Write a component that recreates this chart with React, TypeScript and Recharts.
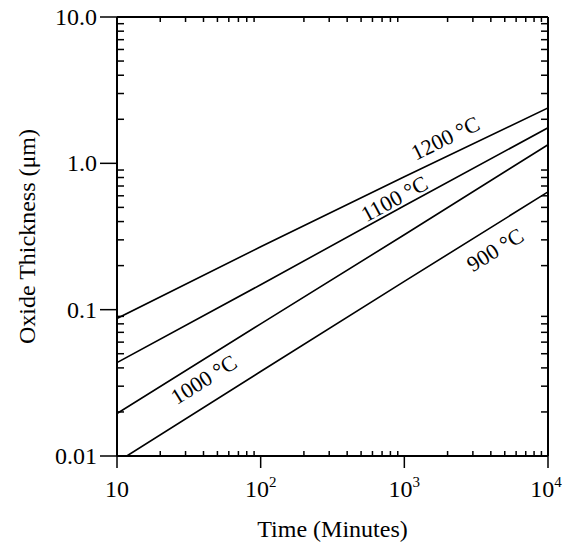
import React from 'react';
import { LineChart, Line, XAxis, YAxis, ReferenceDot } from 'recharts';

// oxide growth curves
const time = [10, 100, 1000, 10000];
const time900 = [11.7, 100, 1000, 10000];
const ox1200 = [0.087, 0.269, 0.809, 2.39];
const ox1100 = [0.0435, 0.148, 0.513, 1.75];
const ox1000 = [0.0195, 0.08, 0.325, 1.34];
const ox900 = [0.01, 0.0378, 0.156, 0.638];

const xMajorTicks = [10, 100, 1000, 10000];
const xTickExponents = ['', '2', '3', '4'];
const yMajorTicks = [0.01, 0.1, 1, 10];
const yTickLabels = ['0.01', '0.1', '1.0', '10.0'];

const curveLabels = [
  { text: '1200 °C', x: 1928, y: 1.49, rot: -26 },
  { text: '1100 °C', x: 851, y: 0.573, rot: -28.5 },
  { text: '1000 °C', x: 40.2, y: 0.0333, rot: -32 },
  { text: '900 °C', x: 4285, y: 0.257, rot: -32 },
];

const toPoints = (xs: number[], ys: number[]) => xs.map((x, i) => ({ x, y: ys[i] }));

const minorTicks = (from: number, to: number) => {
  const out: number[] = [];
  for (let d = from; d < to; d *= 10) {
    for (let k = 2; k <= 9; k++) out.push(d * k);
  }
  return out;
};

const xMinor = minorTicks(10, 10000);
const yMinor = minorTicks(0.01, 10);

const FONT = 'Liberation Serif, Times New Roman, serif';
const Y_AXIS_W = 117;
const axisLine = { stroke: '#000', strokeWidth: 2 };
const tickLine = { stroke: '#000', strokeWidth: 1.5 };
const blank = () => '';

const XTick = ({ x, y, payload }: any) => {
  const i = xMajorTicks.indexOf(payload.value);
  const exp = xTickExponents[i] ?? '';
  return (
    <text x={x} y={y} dy={27} textAnchor="middle" fill="#000" fontSize={24} fontFamily={FONT}>
      <tspan>10</tspan>
      {exp && (
        <tspan dy={-10} fontSize={15}>
          {exp}
        </tspan>
      )}
    </text>
  );
};

// major y ticks: long outward tick plus label (tickSize on this axis was not honoured)
const YTick = ({ y, payload }: any) => (
  <g>
    <line x1={Y_AXIS_W - 17} x2={Y_AXIS_W} y1={y} y2={y} stroke="#000" strokeWidth={1.5} />
    <text x={Y_AXIS_W - 20} y={y} dy={8} textAnchor="end" fill="#000" fontSize={24} fontFamily={FONT}>
      {yTickLabels[yMajorTicks.indexOf(payload.value)] ?? ''}
    </text>
  </g>
);

const CurveLabel = ({ viewBox, text, rot }: any) => {
  const cx = viewBox.x + viewBox.width / 2;
  const cy = viewBox.y + viewBox.height / 2;
  return (
    <text
      x={cx}
      y={cy}
      textAnchor="middle"
      dominantBaseline="central"
      fontSize={22}
      fontFamily={FONT}
      fill="#000"
      transform={`rotate(${rot}, ${cx}, ${cy})`}
    >
      {text}
    </text>
  );
};

export default function App() {
  const series = [
    toPoints(time, ox1200),
    toPoints(time, ox1100),
    toPoints(time, ox1000),
    toPoints(time900, ox900),
  ];

  return (
    <div style={{ position: 'absolute', left: 0, top: 0, width: 566, height: 545, fontFamily: FONT, background: '#fff' }}>
      <LineChart width={566} height={545} margin={{ top: 17, right: 18, left: 0, bottom: 0 }}>
        <XAxis
          dataKey="x"
          type="number"
          scale="log"
          domain={[10, 10000]}
          allowDataOverflow
          ticks={xMajorTicks}
          tick={<XTick />}
          tickSize={12}
          height={89}
          axisLine={axisLine}
          tickLine={tickLine}
          label={{
            value: 'Time (Minutes)',
            position: 'insideBottom',
            offset: 8,
            style: { fontSize: 24, fill: '#000', fontFamily: FONT },
          }}
        />
        <XAxis
          xAxisId="bm"
          dataKey="x"
          type="number"
          scale="log"
          domain={[10, 10000]}
          allowDataOverflow
          mirror
          ticks={xMinor}
          tickFormatter={blank}
          tickSize={5}
          axisLine={false}
          tickLine={tickLine}
        />
        <XAxis
          xAxisId="tm"
          orientation="top"
          dataKey="x"
          type="number"
          scale="log"
          domain={[10, 10000]}
          allowDataOverflow
          mirror
          ticks={xMinor}
          tickFormatter={blank}
          tickSize={5}
          axisLine={axisLine}
          tickLine={tickLine}
        />
        <YAxis
          type="number"
          scale="log"
          domain={[0.01, 10]}
          allowDataOverflow
          ticks={yMajorTicks}
          tick={<YTick />}
          tickLine={false}
          width={Y_AXIS_W}
          axisLine={axisLine}
          label={{
            value: 'Oxide Thickness (μm)',
            angle: -90,
            position: 'insideLeft',
            offset: 26,
            style: { textAnchor: 'middle', fontSize: 24, fill: '#000', fontFamily: FONT },
          }}
        />
        <YAxis
          yAxisId="lm"
          type="number"
          scale="log"
          domain={[0.01, 10]}
          allowDataOverflow
          mirror
          ticks={yMinor}
          tickFormatter={blank}
          tickSize={7}
          axisLine={false}
          tickLine={tickLine}
        />
        <YAxis
          yAxisId="rm"
          orientation="right"
          type="number"
          scale="log"
          domain={[0.01, 10]}
          allowDataOverflow
          mirror
          ticks={yMinor}
          tickFormatter={blank}
          tickSize={7}
          axisLine={axisLine}
          tickLine={tickLine}
        />
        {series.map((pts, i) => (
          <Line
            key={i}
            data={pts}
            dataKey="y"
            type="linear"
            stroke="#000"
            strokeWidth={1.6}
            dot={false}
            isAnimationActive={false}
          />
        ))}
        {curveLabels.map((l) => (
          <ReferenceDot
            key={l.text}
            x={l.x}
            y={l.y}
            r={1}
            fill="none"
            stroke="none"
            label={<CurveLabel text={l.text} rot={l.rot} />}
          />
        ))}
      </LineChart>
    </div>
  );
}
